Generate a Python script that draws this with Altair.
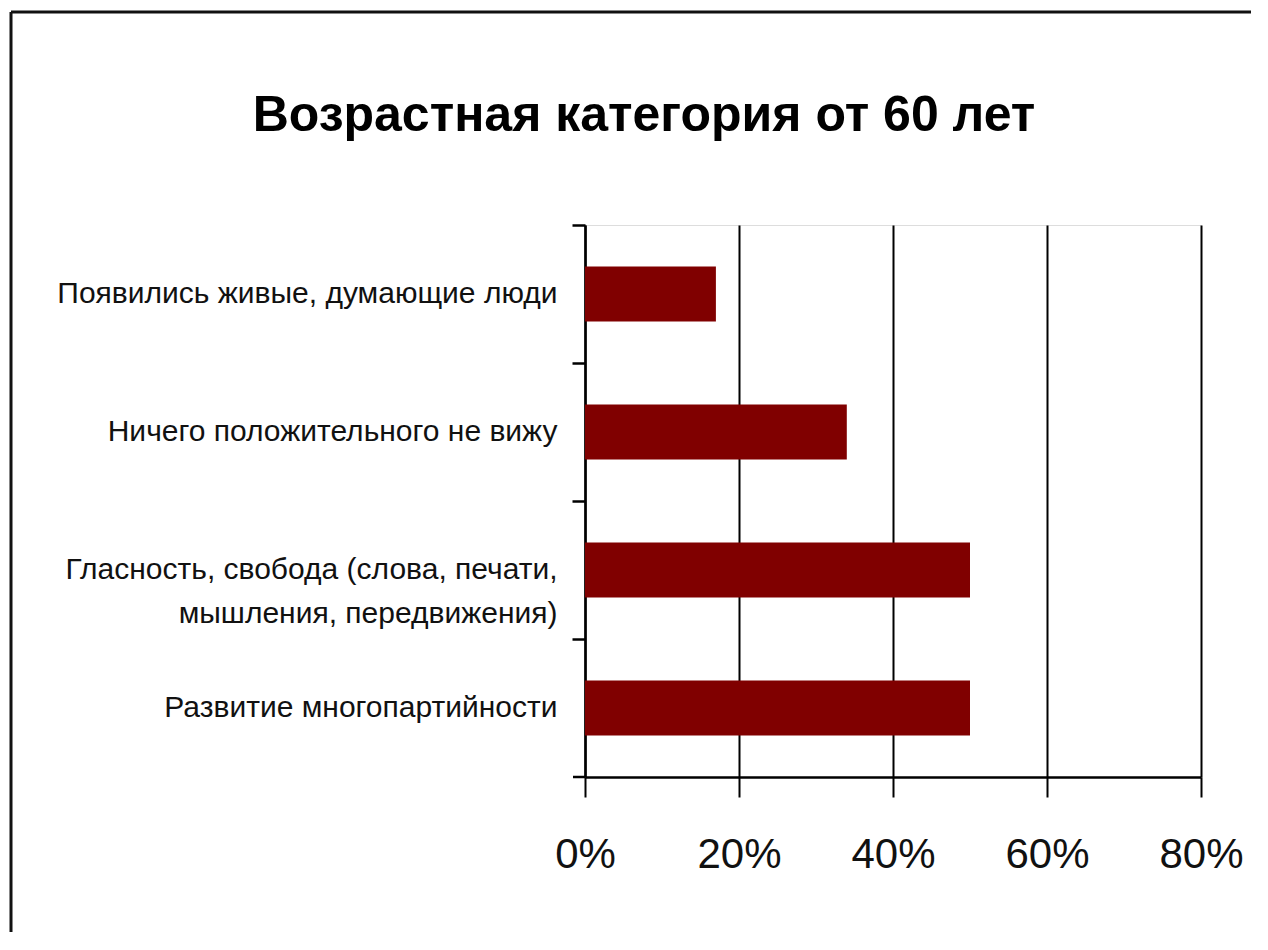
import altair as alt
import pandas as pd

title_text = "Возрастная категория от 60 лет"
categories = [
    "Появились живые, думающие люди",
    "Ничего положительного не вижу",
    "Гласность, свобода (слова, печати,|мышления, передвижения)",
    "Развитие многопартийности",
]
values = [0.17, 0.34, 0.50, 0.50]
x_ticks = [0, 0.2, 0.4, 0.6, 0.8]

df = pd.DataFrame({"cat": categories, "val": values})
one = pd.DataFrame({"k": [0]})

FONT = "Liberation Sans"
W, H = 616, 552

bars = alt.Chart(df).mark_bar(color="#800000", height={"band": 0.4}).encode(
    x=alt.X(
        "val:Q",
        scale=alt.Scale(domain=[0, 0.8], nice=False),
        axis=alt.Axis(
            values=x_ticks,
            format="%",
            title=None,
            grid=True,
            gridColor="black",
            gridWidth=2,
            gridOpacity=1,
            domainColor="black",
            domainWidth=2.5,
            tickColor="black",
            tickWidth=2,
            tickSize=20,
            labelFont=FONT,
            labelFontSize=42,
            labelColor="#111",
            labelPadding=37,
            labelFlush=False,
            labelOverlap=False,
        ),
    ),
    y=alt.Y(
        "cat:N",
        sort=categories,
        scale=alt.Scale(paddingInner=0, paddingOuter=0),
        axis=alt.Axis(
            title=None,
            bandPosition=0,
            grid=False,
            domainColor="black",
            domainWidth=2.5,
            tickColor="black",
            tickWidth=2.5,
            tickSize=13,
            labelFont=FONT,
            labelFontSize=30,
            labelColor="#111",
            labelPadding=15,
            labelLineHeight=44,
            labelLimit=600,
            labelExpr="split(datum.label, '|')",
        ),
    ),
)

frame_left = alt.Chart(one).mark_rule(color="#111", strokeWidth=3).encode(
    x=alt.value(-574), y=alt.value(-213), y2=alt.value(725)
)
frame_top = alt.Chart(one).mark_rule(color="#111", strokeWidth=3).encode(
    x=alt.value(-574), x2=alt.value(680), y=alt.value(-213)
)
axis_ext = alt.Chart(one).mark_rule(color="black", strokeWidth=2.5).encode(
    x=alt.value(-12), x2=alt.value(0), y=alt.value(H)
)

chart = (
    alt.layer(bars, frame_left, frame_top, axis_ext)
    .properties(
        width=W,
        height=H,
        autosize=alt.AutoSizeParams(type="none"),
        padding={"left": 577, "top": 217, "right": 50, "bottom": 155},
        title=alt.TitleParams(
            title_text,
            font=FONT,
            fontSize=50,
            fontWeight="bold",
            color="black",
            anchor="middle",
            frame="group",
            baseline="alphabetic",
            offset=-170,
            dx=-249,
        ),
    )
    .configure_view(stroke="black", strokeWidth=2)
    .configure(background="white")
)

chart.save("out.html", embed_options={"renderer": "svg", "actions": False})
